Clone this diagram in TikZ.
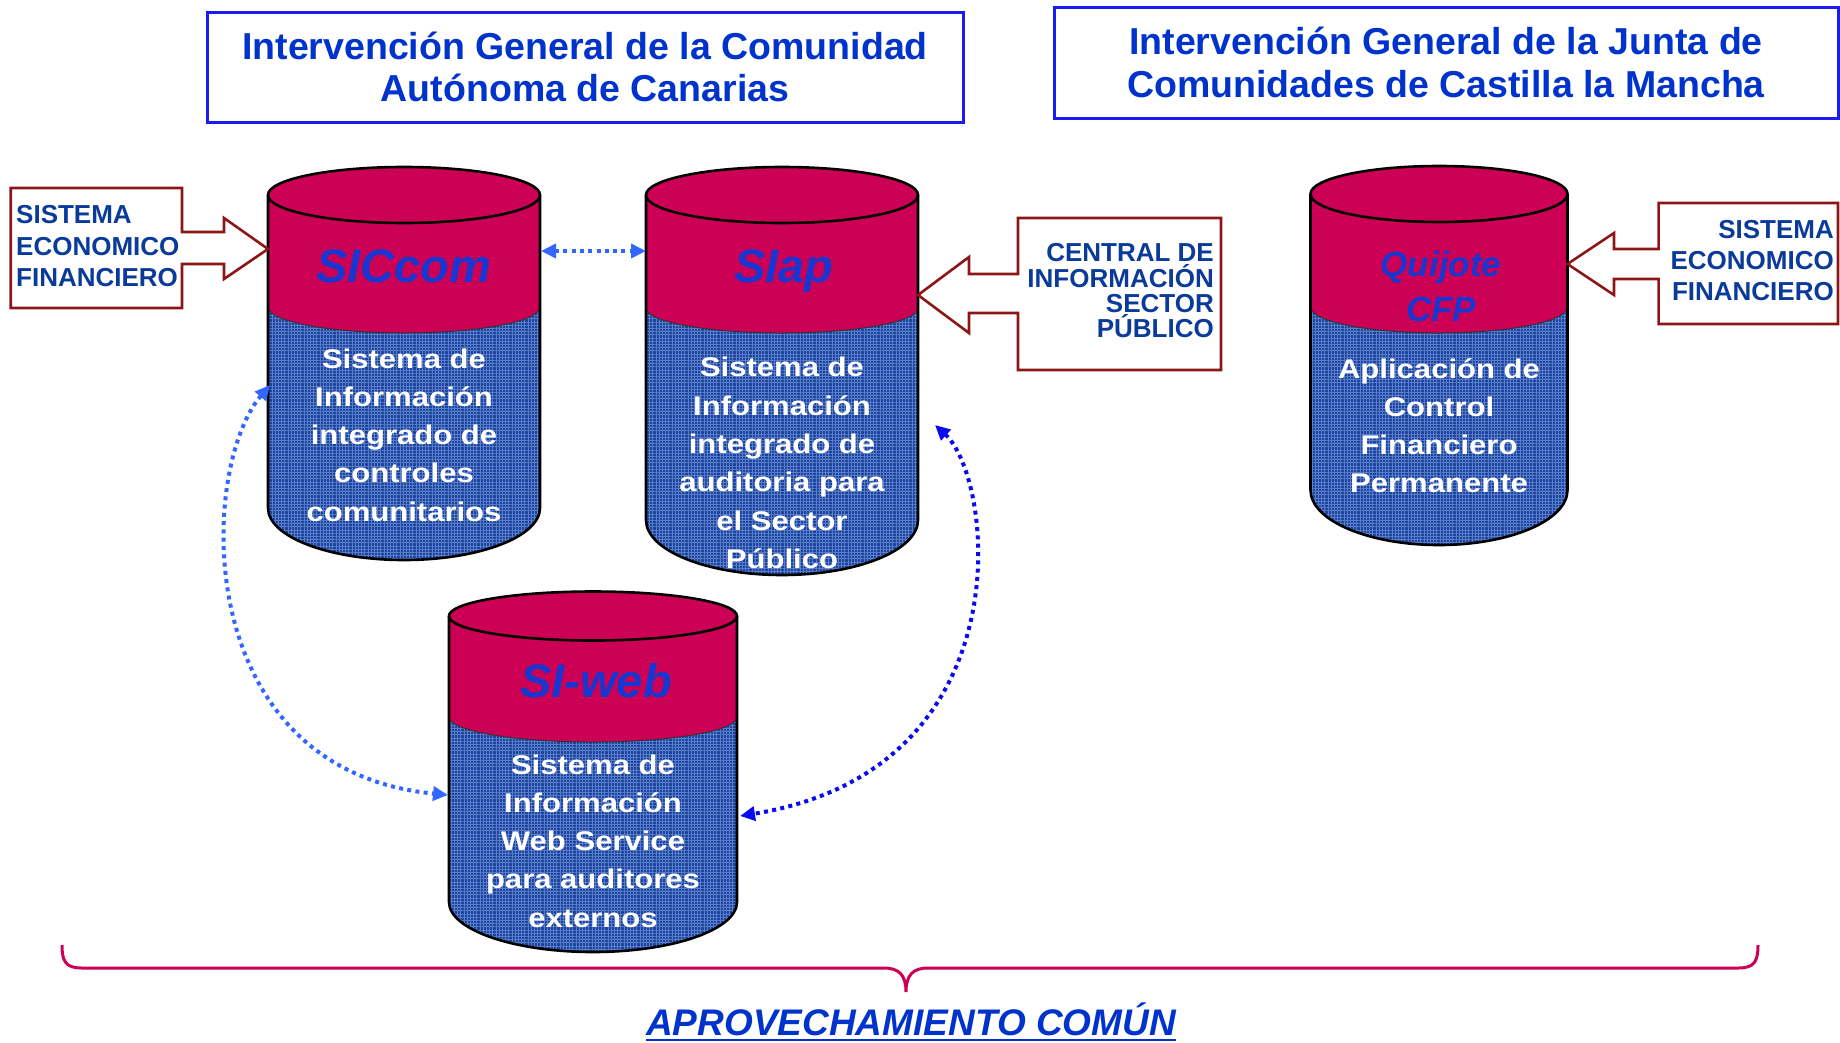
\documentclass[tikz,border=0pt]{standalone}
\usepackage{fontspec}
\setmainfont{Liberation Sans}
\newfontfamily\widesans[FakeStretch=1.15]{Liberation Sans}
\usetikzlibrary{positioning,calc,arrows.meta,patterns.meta}

\definecolor{dbred}{HTML}{CC0055}
\definecolor{dbblue}{HTML}{1C449C}
\definecolor{dbgrid}{HTML}{5A7DCC}
\definecolor{callred}{HTML}{8C1515}
\definecolor{txtblue}{HTML}{0033CC}
\definecolor{lblblue}{HTML}{1A36D0}
\definecolor{navy}{HTML}{0A3A9A}
\definecolor{linkblue}{HTML}{3366FF}
\definecolor{deepblue}{HTML}{0A0AF0}
\definecolor{frameblue}{HTML}{1A1AF5}

\begin{document}
\begin{tikzpicture}[x=1pt,y=1pt,
  >={Triangle[length=15pt,width=14pt]},
  redpart/.style={fill=dbred},
  bluepart/.style={fill=dbblue,postaction={pattern={Hatch[angle=0,distance=3.2pt,line width=0.7pt]},pattern color=dbgrid}},
  cylline/.style={draw=black,line width=2.6pt},
  midline/.style={draw=black!80,line width=1pt},
  cname/.style={inner sep=0pt,anchor=base,text=lblblue,font=\fontsize{47}{50}\selectfont\bfseries\itshape},
  cbody/.style={inner sep=0pt,align=center,text=white,font={\widesans\bfseries\fontsize{27}{38.3}\selectfont}},
  titlebox/.style={draw=frameblue,line width=3pt,fill=white,inner sep=0pt,align=center,text=txtblue,font=\fontsize{37.5}{42.4}\selectfont\bfseries},
  callout/.style={draw=callred,line width=2.6pt,fill=white,line join=miter},
  calltext/.style={inner sep=0pt,text=navy,font=\fontsize{26}{31.2}\selectfont\bfseries},
  link/.style={linkblue,line width=4pt,dash pattern=on 4pt off 4.3pt},
  brace/.style={draw=dbred,line width=3pt}]

\useasboundingbox (0,0) rectangle (1840,-1042);

% TITLES

\node[titlebox,minimum width=756pt,minimum height=110pt] (igcac) at (585,-67)
  {Intervención General de la Comunidad\\Autónoma de Canarias};
\node[titlebox,minimum width=784pt,minimum height=111pt] (igjccm) at (1446,-62.5)
  {Intervención General de la Junta de\\Comunidades de Castilla la Mancha};

% CYLINDERS

\coordinate (sic)  at (404,-195);
\coordinate (slap) at (782,-195);
\coordinate (web)  at (593,-616);
\coordinate (quij) at (1439,-194);

% SICcom
\fill[redpart] ($(sic)+(-136,0)$) arc[start angle=180,end angle=0,x radius=136,y radius=28]
  -- ++(0,-112) arc[start angle=0,end angle=-180,x radius=136,y radius=26] -- cycle;
\path[bluepart] ($(sic)+(-136,-112)$) arc[start angle=180,end angle=360,x radius=136,y radius=26]
  -- ++(0,-201) arc[start angle=0,end angle=-180,x radius=136,y radius=52] -- cycle;
\draw[midline] ($(sic)+(-136,-112)$) arc[start angle=180,end angle=360,x radius=136,y radius=26];
\node[cname] (sicName) at ($(sic)+(0,-87)$) {SICcom};
\node[cbody] (sicBody) at ($(sic)+(0,-240)$) {Sistema de\\Información\\integrado de\\controles\\comunitarios};
\draw[cylline] ($(sic)+(-136,0)$) -- ++(0,-313) arc[start angle=180,end angle=360,x radius=136,y radius=52] -- ++(0,313);
\draw[cylline] (sic) ellipse[x radius=136,y radius=28];

% SIap
\fill[redpart] ($(slap)+(-136,0)$) arc[start angle=180,end angle=0,x radius=136,y radius=28]
  -- ++(0,-113) arc[start angle=0,end angle=-180,x radius=136,y radius=25] -- cycle;
\path[bluepart] ($(slap)+(-136,-113)$) arc[start angle=180,end angle=360,x radius=136,y radius=25]
  -- ++(0,-212) arc[start angle=0,end angle=-180,x radius=136,y radius=55] -- cycle;
\draw[midline] ($(slap)+(-136,-113)$) arc[start angle=180,end angle=360,x radius=136,y radius=25];
\node[cname] (slapName) at ($(slap)+(2,-87)$) {SIap};
\node[cbody] (slapBody) at ($(slap)+(0,-268)$) {Sistema de\\Información\\integrado de\\auditoria para\\el Sector\\Público};
\draw[cylline] ($(slap)+(-136,0)$) -- ++(0,-325) arc[start angle=180,end angle=360,x radius=136,y radius=55] -- ++(0,325);
\draw[cylline] (slap) ellipse[x radius=136,y radius=28];

% SI-web
\fill[redpart] ($(web)+(-144,0)$) arc[start angle=180,end angle=0,x radius=144,y radius=24.5]
  -- ++(0,-101) arc[start angle=0,end angle=-180,x radius=144,y radius=25] -- cycle;
\path[bluepart] ($(web)+(-144,-101)$) arc[start angle=180,end angle=360,x radius=144,y radius=25]
  -- ++(0,-185) arc[start angle=0,end angle=-180,x radius=144,y radius=50] -- cycle;
\draw[midline] ($(web)+(-144,-101)$) arc[start angle=180,end angle=360,x radius=144,y radius=25];
\node[cname] (webName) at ($(web)+(3,-81)$) {SI-web};
\node[cbody] (webBody) at ($(web)+(0,-225)$) {Sistema de\\Información\\Web Service\\para auditores\\externos};
\draw[cylline] ($(web)+(-144,0)$) -- ++(0,-286) arc[start angle=180,end angle=360,x radius=144,y radius=50] -- ++(0,286);
\draw[cylline] (web) ellipse[x radius=144,y radius=24.5];

% Quijote CFP
\fill[redpart] ($(quij)+(-128.5,0)$) arc[start angle=180,end angle=0,x radius=128.5,y radius=28]
  -- ++(0,-113) arc[start angle=0,end angle=-180,x radius=128.5,y radius=26] -- cycle;
\path[bluepart] ($(quij)+(-128.5,-113)$) arc[start angle=180,end angle=360,x radius=128.5,y radius=26]
  -- ++(0,-183) arc[start angle=0,end angle=-180,x radius=128.5,y radius=55] -- cycle;
\draw[midline] ($(quij)+(-128.5,-113)$) arc[start angle=180,end angle=360,x radius=128.5,y radius=26];
\node[cname,anchor=center,align=center,font=\fontsize{35}{45}\selectfont\bfseries\itshape] (quijName)
  at ($(quij)+(2,-92.5)$) {Quijote\\CFP};
\node[cbody,font={\widesans\bfseries\fontsize{27}{37.7}\selectfont}] (quijBody) at ($(quij)+(0,-231.7)$)
  {Aplicación de\\Control\\Financiero\\Permanente};
\draw[cylline] ($(quij)+(-128.5,0)$) -- ++(0,-296) arc[start angle=180,end angle=360,x radius=128.5,y radius=55] -- ++(0,296);
\draw[cylline] (quij) ellipse[x radius=128.5,y radius=28];

% CALLOUTS

\coordinate (sicW)  at ($(sic)+(-136,-54)$);
\coordinate (slapE) at ($(slap)+(136,-100)$);
\coordinate (quijE) at ($(quij)+(128.5,-70)$);

\draw[callout] (10.7,-188) -- (182,-188) -- (182,-232) -- (224,-232) -- (224,-218) -- (sicW)
  -- (224,-279) -- (224,-264) -- (182,-264) -- (182,-308) -- (10.7,-308) -- cycle;
\node[calltext,anchor=west,align=left] (sefL) at (16,-246.2) {SISTEMA\\ECONOMICO\\FINANCIERO};

\draw[callout] (1018,-218) -- (1221,-218) -- (1221,-370) -- (1018,-370) -- (1018,-313) -- (969,-313)
  -- (969,-333) -- (slapE) -- (969,-257) -- (969,-274) -- (1018,-274) -- cycle;
\node[calltext,anchor=east,align=right,font=\fontsize{26}{25.3}\selectfont\bfseries] (cisp) at (1214,-290.7)
  {CENTRAL DE\\INFORMACIÓN\\SECTOR\\PÚBLICO};

\draw[callout] (1838,-203) -- (1838,-324) -- (1658.6,-324) -- (1658.6,-279) -- (1614,-279) -- (1614,-295)
  -- (quijE) -- (1614,-233) -- (1614,-249) -- (1658.6,-249) -- (1658.6,-203) -- cycle;
\node[calltext,anchor=east,align=right] (sefR) at (1834,-260.7) {SISTEMA\\ECONOMICO\\FINANCIERO};

% LINKS

\coordinate (sicE)   at ($(sic)+(137,-56)$);
\coordinate (slapW)  at ($(slap)+(-136,-56)$);
\coordinate (sicSW)  at ($(sic)+(-134,-190)$);
\coordinate (webW)   at ($(web)+(-145,-179)$);
\coordinate (slapSE) at ($(slap)+(153,-230)$);
\coordinate (webE)   at ($(web)+(147,-200)$);

\draw[link,<->] (sicE) -- (slapW);
\draw[link,<->] (sicSW) .. controls +(-72,-85) and +(-258,25) .. (webW);
\draw[link,deepblue,<->] (slapSE) .. controls +(60,-55) and +(285,46) .. (webE);

% COMMON USE

\draw[brace] (62,-945) .. controls (62,-962) and (66,-968) .. (82,-968) -- (884,-968)
  .. controls (899,-968) and (906,-975) .. (906,-992)
  .. controls (906,-975) and (913,-968) .. (928,-968) -- (1738,-968)
  .. controls (1754,-968) and (1758,-962) .. (1758,-945);
\node[inner sep=0pt,anchor=base,text=txtblue,font=\fontsize{37}{44}\selectfont\bfseries\itshape] (aprov)
  at (911,-1035) {APROVECHAMIENTO COMÚN};
\draw[txtblue,line width=2.6pt] ($(aprov.base west)+(0,-5)$) -- ($(aprov.base east)+(0,-5)$);

\end{tikzpicture}
\end{document}
